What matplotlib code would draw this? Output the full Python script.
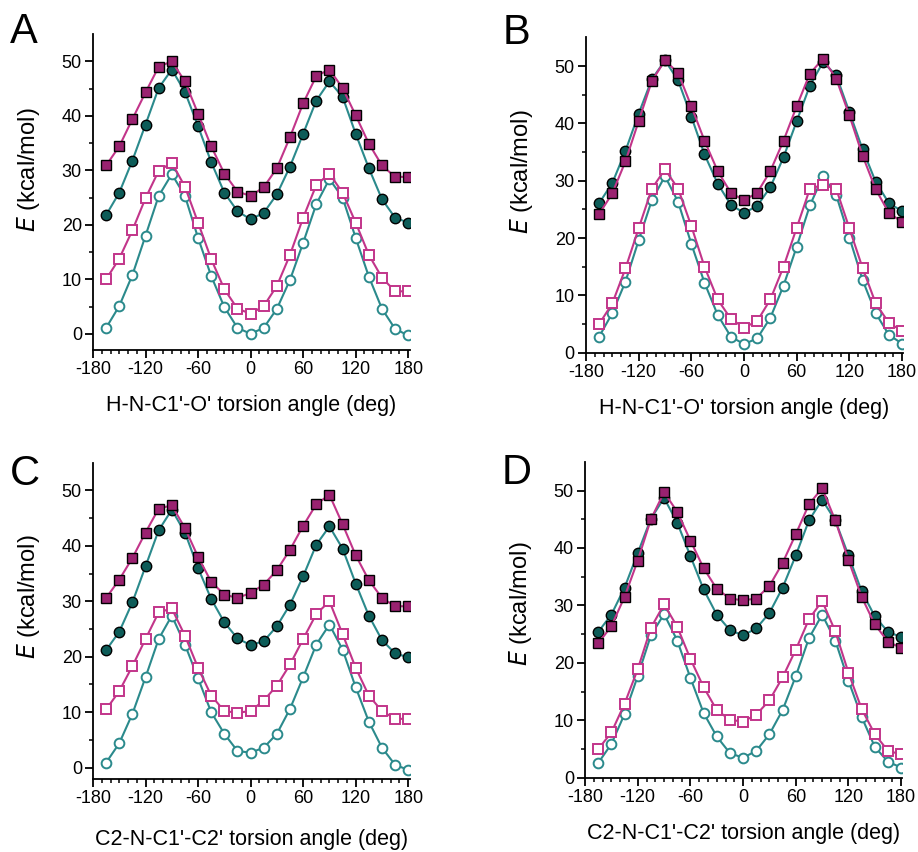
import numpy as np
from matplotlib import pyplot as plt

plt.rcParams['font.family'] = ['Liberation Sans', 'DejaVu Sans']
plt.rcParams['axes.unicode_minus'] = False  # hyphen minus like the original

# torsion angles (deg), every 15 deg
angles = [-165, -150, -135, -120, -105, -90, -75, -60, -45, -30, -15, 0,
          15, 30, 45, 60, 75, 90, 105, 120, 135, 150, 165, 180]

# panel A
a_sq_fill = [30.9, 34.4, 39.4, 44.3, 49.0, 50.0, 46.3, 40.4, 34.4, 29.4, 26.1, 25.3,
             26.9, 30.4, 36.1, 42.3, 47.3, 48.5, 45.1, 40.1, 34.9, 30.9, 28.8, 28.8]
a_ci_fill = [21.8, 25.9, 31.8, 38.4, 45.1, 48.5, 44.4, 38.1, 31.5, 25.9, 22.5, 21.0,
             22.2, 25.6, 30.7, 36.7, 42.8, 46.3, 43.5, 36.7, 30.4, 24.7, 21.3, 20.4]
a_sq_open = [10.0, 13.8, 19.0, 24.9, 29.9, 31.4, 27.0, 20.4, 13.7, 8.2, 4.6, 3.7,
             5.1, 8.8, 14.5, 21.3, 27.3, 29.4, 25.9, 20.4, 14.5, 10.3, 7.8, 7.8]
a_ci_open = [1.1, 5.1, 10.8, 18.0, 25.3, 29.3, 25.3, 17.6, 10.6, 4.9, 1.1, 0.0,
             1.1, 4.6, 9.9, 16.7, 23.8, 28.4, 25.0, 17.6, 10.5, 4.6, 0.9, -0.3]

# panel B
b_sq_fill = [24.2, 27.8, 33.4, 40.4, 47.4, 51.0, 48.8, 43.0, 37.0, 31.7, 27.9, 26.6,
             27.9, 31.7, 37.0, 43.0, 48.7, 51.3, 47.8, 41.4, 34.4, 28.5, 24.4, 22.8]
b_ci_fill = [26.1, 29.6, 35.2, 41.7, 47.7, 51.0, 47.5, 41.2, 34.6, 29.5, 25.8, 24.4,
             25.6, 28.9, 34.1, 40.4, 46.6, 50.7, 48.4, 42.0, 35.5, 29.8, 26.1, 24.7]
b_sq_open = [5.0, 8.6, 14.7, 21.7, 28.6, 32.0, 28.6, 22.1, 15.0, 9.3, 5.9, 4.4,
             5.5, 9.3, 15.0, 21.8, 28.6, 29.3, 28.6, 21.7, 14.8, 8.6, 5.2, 3.8]
b_ci_open = [2.8, 6.9, 12.4, 19.6, 26.6, 30.8, 26.3, 19.0, 12.2, 6.6, 2.8, 1.5,
             2.5, 6.1, 11.7, 18.5, 25.7, 30.8, 27.5, 20.1, 12.7, 6.9, 3.1, 1.6]

# panel C
c_sq_fill = [30.6, 33.9, 37.8, 42.4, 46.7, 47.3, 43.2, 38.0, 33.5, 31.2, 30.6, 31.5,
             33.0, 35.6, 39.3, 43.6, 47.5, 49.2, 43.9, 38.3, 33.8, 30.6, 29.1, 29.1]
c_ci_fill = [21.2, 24.5, 29.8, 36.3, 42.8, 46.5, 42.4, 36.0, 30.4, 26.2, 23.3, 22.1,
             22.8, 25.5, 29.4, 34.5, 40.2, 43.5, 39.5, 33.2, 27.4, 23.0, 20.6, 19.9]
c_sq_open = [10.5, 13.8, 18.3, 23.2, 28.0, 28.7, 23.8, 18.0, 13.0, 10.2, 9.9, 10.2,
             12.1, 14.8, 18.6, 23.2, 27.7, 30.0, 24.1, 18.0, 13.0, 10.2, 8.8, 8.8]
c_ci_open = [0.9, 4.4, 9.7, 16.3, 23.2, 27.4, 22.2, 16.1, 10.0, 6.1, 3.0, 2.7,
             3.6, 6.1, 10.6, 16.3, 22.2, 25.8, 21.3, 14.5, 8.3, 3.6, 0.5, -0.4]

# panel D
d_sq_fill = [23.4, 26.4, 31.5, 37.8, 45.0, 49.7, 46.3, 41.3, 36.5, 32.9, 31.2, 30.9,
             31.2, 33.4, 37.4, 42.4, 47.6, 50.4, 44.8, 37.9, 31.5, 26.7, 23.7, 22.6]
d_ci_fill = [25.4, 28.4, 33.1, 39.1, 45.1, 48.7, 44.4, 38.6, 32.8, 28.4, 25.7, 24.8,
             26.0, 28.7, 33.1, 38.7, 44.8, 48.4, 44.8, 38.7, 32.5, 28.1, 25.4, 24.5]
d_sq_open = [5.0, 7.9, 12.9, 18.9, 26.1, 30.2, 26.3, 20.7, 15.8, 11.8, 10.1, 9.8,
             11.0, 13.5, 17.5, 22.3, 27.6, 30.8, 25.5, 18.3, 12.0, 7.6, 4.7, 4.1]
d_ci_open = [2.6, 5.9, 11.1, 17.7, 24.8, 28.5, 23.9, 17.4, 11.3, 7.2, 4.3, 3.5,
             4.7, 7.6, 11.8, 17.7, 24.3, 28.4, 23.9, 16.9, 10.6, 5.4, 2.8, 1.8]

letters = ['A', 'B', 'C', 'D']
xlabels = ["H-N-C1'-O' torsion angle (deg)", "H-N-C1'-O' torsion angle (deg)",
           "C2-N-C1'-C2' torsion angle (deg)", "C2-N-C1'-C2' torsion angle (deg)"]

magenta = '#c2358a'
mag_fill = '#9a2270'
teal = '#2b8a8c'
teal_fill = '#0d5c58'

fig = plt.figure(figsize=(9.18, 8.52), dpi=100)

# axes rectangles [left, bottom, width, height]
boxes = [[0.1013, 0.589, 0.3453, 0.371],
         [0.6383, 0.586, 0.3453, 0.370],
         [0.1013, 0.086, 0.3453, 0.371],
         [0.6373, 0.087, 0.3453, 0.371]]
ybottoms = [-3, 0, -2, 0]
xrights = [182, 181, 182, 181]
letter_pos = [(0.011, 0.950), (0.547, 0.948), (0.011, 0.431), (0.546, 0.432)]
xlabel_pads = [12, 12, 16, 12]
ylabel_y = [0.57, 0.575, 0.575, 0.55]

panels = [(a_sq_fill, a_ci_fill, a_sq_open, a_ci_open),
          (b_sq_fill, b_ci_fill, b_sq_open, b_ci_open),
          (c_sq_fill, c_ci_fill, c_sq_open, c_ci_open),
          (d_sq_fill, d_ci_fill, d_sq_open, d_ci_open)]

for i, (sq_f, ci_f, sq_o, ci_o) in enumerate(panels):
    ax = fig.add_axes(boxes[i])
    # circles first, squares on top
    ax.plot(angles, ci_o, color=teal, lw=1.5, marker='o', ms=7,
            mfc='white', mec=teal, mew=1.4, zorder=2)
    ax.plot(angles, sq_o, color=magenta, lw=1.5, marker='s', ms=7,
            mfc='white', mec=magenta, mew=1.4, zorder=3)
    ax.plot(angles, ci_f, color=teal, lw=1.5, marker='o', ms=7.5,
            mfc=teal_fill, mec='black', mew=1.0, zorder=4)
    ax.plot(angles, sq_f, color=magenta, lw=1.5, marker='s', ms=7.5,
            mfc=mag_fill, mec='black', mew=1.0, zorder=5)

    ax.set_xlim(-180, xrights[i])
    ax.set_ylim(ybottoms[i], 55)
    ax.set_xticks([-180, -120, -60, 0, 60, 120, 180])
    ax.set_xticks(np.arange(-170, 180, 10), minor=True)
    ax.set_yticks([0, 10, 20, 30, 40, 50])
    ax.set_yticks([5, 15, 25, 35, 45], minor=True)
    ax.spines['top'].set_visible(False)
    ax.spines['right'].set_visible(False)
    ax.spines['left'].set_linewidth(1.3)
    ax.spines['bottom'].set_linewidth(1.3)
    ax.tick_params(which='major', direction='out', length=6, width=1.3, labelsize=13, pad=2)
    ax.tick_params(which='minor', direction='out', length=3, width=1.1)
    for sp in ax.spines.values():
        sp.set_clip_on(False)

    ax.set_xlabel(xlabels[i], fontsize=15.5, labelpad=xlabel_pads[i])
    ax.set_ylabel(r'$\it{E}$ (kcal/mol)', fontsize=17)
    ax.yaxis.set_label_coords(-0.16, ylabel_y[i])
    fig.text(letter_pos[i][0], letter_pos[i][1], letters[i], fontsize=30)

plt.savefig('out.png', dpi=100)
